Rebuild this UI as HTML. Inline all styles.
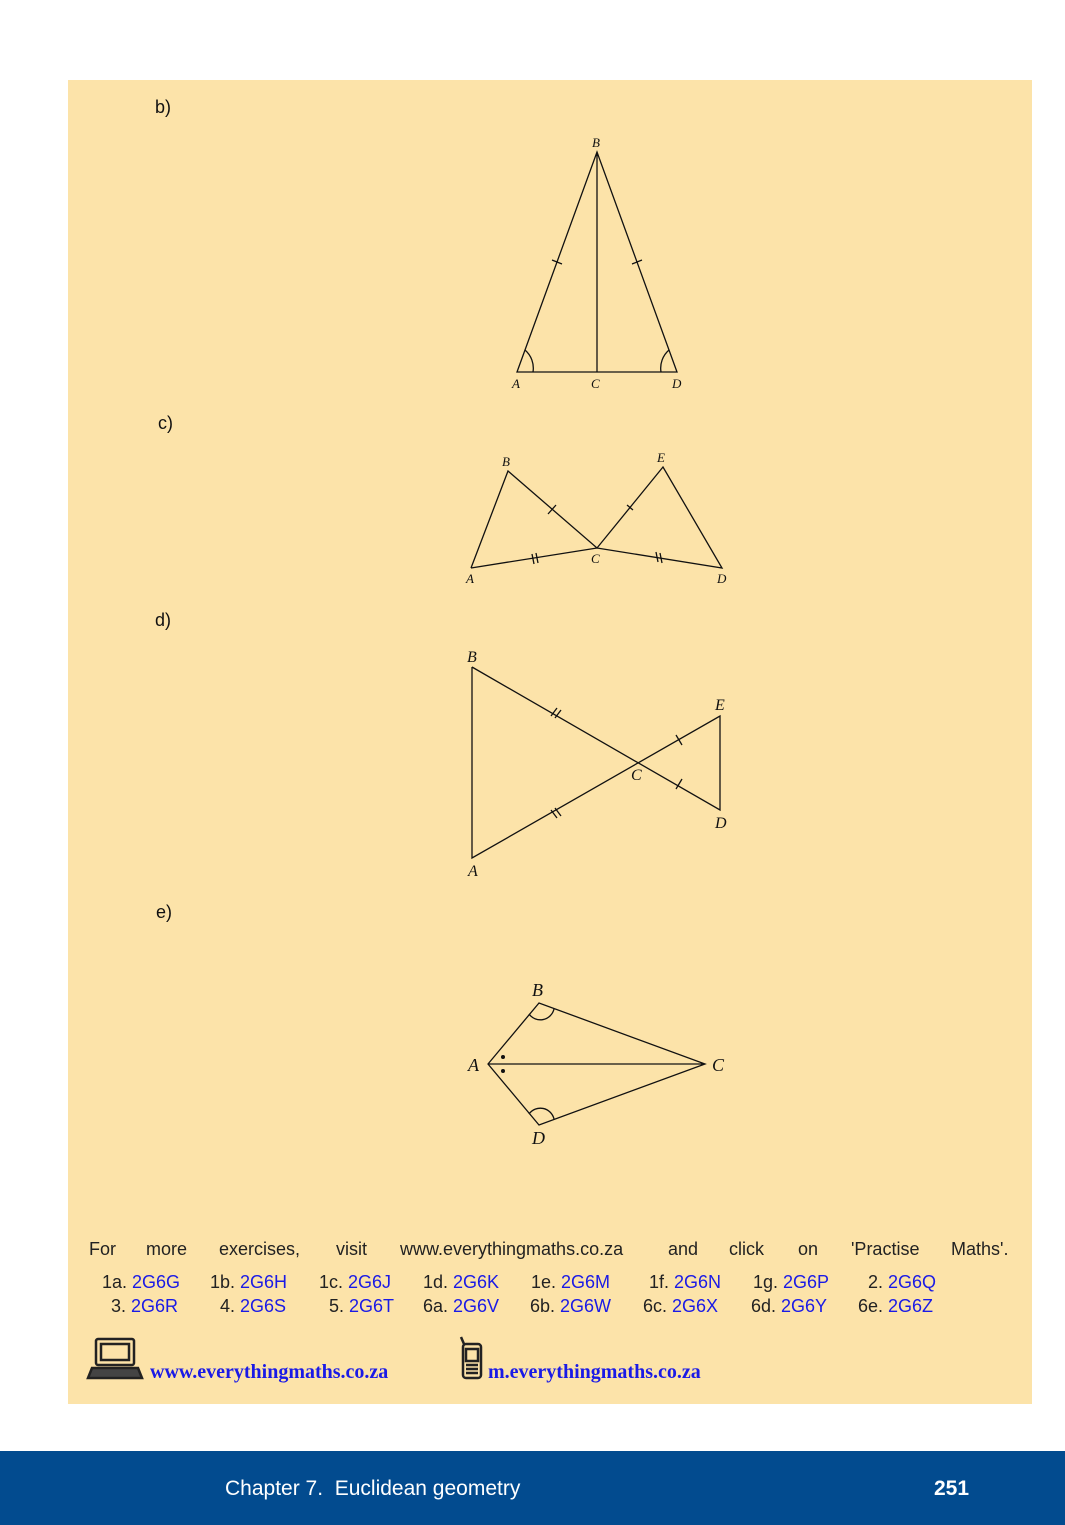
<!DOCTYPE html>
<html><head><meta charset="utf-8"><style>
body{margin:0;width:1065px;height:1525px;background:#fff;position:relative;font-family:"Liberation Sans",sans-serif;overflow:hidden}
#box{position:absolute;left:68px;top:80px;width:964px;height:1324px;background:#fce3a9}
.lbl{position:absolute;font-size:18px;color:#111}
.c{position:absolute;font-size:18px;color:#222;white-space:pre}
.b{color:#1a1ae6}
#footer{position:absolute;left:0;top:1451px;width:1065px;height:74px;background:#024b8f;color:#fff}
</style></head><body>
<div id="box"></div>
<div class="lbl" style="left:155px;top:97px">b)</div>
<div class="lbl" style="left:158px;top:413px">c)</div>
<div class="lbl" style="left:155px;top:610px">d)</div>
<div class="lbl" style="left:156px;top:902px">e)</div>
<svg style="position:absolute;left:0;top:0" width="1065" height="1525">
<g stroke="#111" stroke-width="1.3" fill="none">
<g>
<path d="M517 372 L597 152 L677 372 Z M597 152 L597 372"/>
<path d="M552 260 L562 264 M632 264 L642 260"/>
<path d="M525 350 A24 24 0 0 1 533 372 M669 350 A24 24 0 0 0 661 372"/>
</g>
<g>
<path d="M471 568 L508 471 L597 548 L663 467 L722 568 L597 548 L471 568"/>
<path d="M548 514 L556 505 M627 505 L633 510"/>
<path d="M532 554 L534 564 M536 553 L538 563 M656 552 L658 562 M660 553 L662 563"/>
</g>
<g>
<path d="M472 667 L472 858 L720 716 L720 810 L472 667"/>
<path d="M551 716 L557 708 M555 718 L561 710 M551 810 L557 818 M555 808 L561 816 M676 735 L682 745 M676 789 L682 779"/>
</g>
<g>
<path d="M488 1064 L539 1003 L705 1064 L539 1125 Z M488 1064 L705 1064"/>
<path d="M529 1014 A14 14 0 0 0 554 1009 M529 1114 A14 14 0 0 1 554 1119"/>
</g>
</g>
<circle cx="503" cy="1057" r="2" fill="#111"/><circle cx="503" cy="1071" r="2" fill="#111"/>
<g font-family="Liberation Serif,serif" font-style="italic" fill="#111" font-size="13">
<text x="592" y="147">B</text><text x="512" y="388">A</text><text x="591" y="388">C</text><text x="672" y="388">D</text>
<text x="502" y="466">B</text><text x="657" y="462">E</text><text x="466" y="583">A</text><text x="591" y="563">C</text><text x="717" y="583">D</text>
<g font-size="16"><text x="467" y="662">B</text><text x="715" y="710">E</text><text x="631" y="780">C</text><text x="715" y="828">D</text><text x="468" y="876">A</text></g>
<g font-size="18"><text x="532" y="996">B</text><text x="468" y="1071">A</text><text x="712" y="1071">C</text><text x="532" y="1144">D</text></g>
</g>
<g fill="none" stroke="#222" stroke-width="2.5">
<rect x="96" y="1339" width="38" height="26" rx="2"/><rect x="101" y="1344" width="28" height="16"/>
<path d="M92 1368 L138 1368 L142 1378 L88 1378 Z" fill="#444"/>
</g>
<g fill="none" stroke="#222" stroke-width="2.5">
<rect x="463" y="1344" width="18" height="34" rx="3"/><rect x="466" y="1349" width="12" height="12"/>
<path d="M466 1365 h12 M466 1369 h12 M466 1373 h12 M464 1344 L461 1337"/>
</g>
</svg>
<div>
<span class="c" style="left:89px;top:1239px">For</span>
<span class="c" style="left:146px;top:1239px">more</span>
<span class="c" style="left:219px;top:1239px">exercises,</span>
<span class="c" style="left:336px;top:1239px">visit</span>
<span class="c" style="left:400px;top:1239px">www.everythingmaths.co.za</span>
<span class="c" style="left:668px;top:1239px">and</span>
<span class="c" style="left:729px;top:1239px">click</span>
<span class="c" style="left:798px;top:1239px">on</span>
<span class="c" style="left:851px;top:1239px">'Practise</span>
<span class="c" style="left:951px;top:1239px">Maths'.</span>
</div>
<div>
<span class="c" style="left:102px;top:1272px">1a. <span class="b">2G6G</span></span>
<span class="c" style="left:210px;top:1272px">1b. <span class="b">2G6H</span></span>
<span class="c" style="left:319px;top:1272px">1c. <span class="b">2G6J</span></span>
<span class="c" style="left:423px;top:1272px">1d. <span class="b">2G6K</span></span>
<span class="c" style="left:531px;top:1272px">1e. <span class="b">2G6M</span></span>
<span class="c" style="left:649px;top:1272px">1f. <span class="b">2G6N</span></span>
<span class="c" style="left:753px;top:1272px">1g. <span class="b">2G6P</span></span>
<span class="c" style="left:868px;top:1272px">2. <span class="b">2G6Q</span></span>
</div>
<div>
<span class="c" style="left:111px;top:1296px">3. <span class="b">2G6R</span></span>
<span class="c" style="left:220px;top:1296px">4. <span class="b">2G6S</span></span>
<span class="c" style="left:329px;top:1296px">5. <span class="b">2G6T</span></span>
<span class="c" style="left:423px;top:1296px">6a. <span class="b">2G6V</span></span>
<span class="c" style="left:530px;top:1296px">6b. <span class="b">2G6W</span></span>
<span class="c" style="left:643px;top:1296px">6c. <span class="b">2G6X</span></span>
<span class="c" style="left:751px;top:1296px">6d. <span class="b">2G6Y</span></span>
<span class="c" style="left:858px;top:1296px">6e. <span class="b">2G6Z</span></span>
</div>
<div class="c" style="left:150px;top:1361px;font-family:'Liberation Serif',serif;font-size:20px;font-weight:bold;color:#1a1ae6">www.everythingmaths.co.za</div>
<div class="c" style="left:488px;top:1361px;font-family:'Liberation Serif',serif;font-size:20px;font-weight:bold;color:#1a1ae6">m.everythingmaths.co.za</div>
<div id="footer">
<div style="position:absolute;left:225px;top:26px;font-size:21px">Chapter 7.&nbsp;&nbsp;Euclidean geometry</div>
<div style="position:absolute;left:934px;top:26px;font-size:21px;font-weight:bold">251</div>
</div>
</body></html>
